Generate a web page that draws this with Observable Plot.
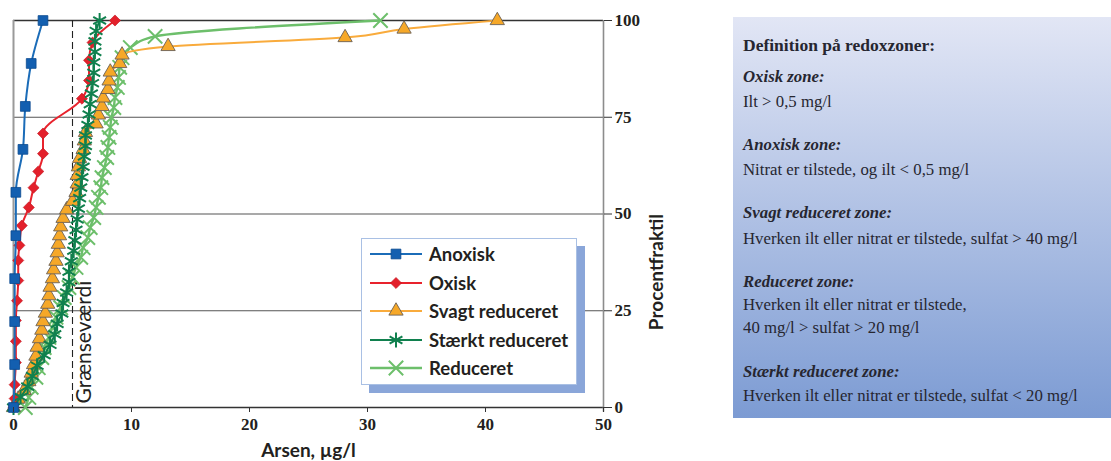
<!DOCTYPE html>
<html>
<head>
<meta charset="utf-8">
<script src="https://cdn.jsdelivr.net/npm/d3@7"></script>
<script src="https://cdn.jsdelivr.net/npm/@observablehq/plot@0.6"></script>
<style>
  body { margin: 0; background: #fff; }
  #wrap { position: relative; width: 1111px; height: 461px; overflow: hidden; }
  #chart { position: absolute; left: 0; top: 0; }
  #legend {
    position: absolute; left: 361px; top: 238px; width: 214px; height: 145px;
    background: #fff; border: 1.5px solid #a9c0e4; box-shadow: 8px 8px 0 #8aa6d9;
  }
  .row { position: absolute; left: 0; height: 28px; display: flex; align-items: center;
         font: 700 18.5px Lato, sans-serif; color: #231f20; white-space: nowrap; }
  .row svg { margin-left: 7px; margin-right: 6px; }
  #panel {
    position: absolute; left: 733px; top: 17px; width: 378px; height: 401px;
    background: linear-gradient(#e2e6f5, #7c9bd3);
    font-family: "Liberation Serif", serif; color: #262630;
  }
  .t { position: absolute; left: 10px; white-space: nowrap; line-height: 20px; font-size: 16.8px; }
  .h { font-weight: bold; font-style: italic; }
  .title { font-weight: bold; font-size: 17.5px; }
</style>
</head>
<body>
<div id="wrap">
  <div id="chart"></div>
  <div id="legend"></div>
  <div id="panel">
    <div class="t title" style="top:18px">Definition på redoxzoner:</div>
    <div class="t h" style="top:50px">Oxisk zone:</div>
    <div class="t" style="top:75px">Ilt &gt; 0,5 mg/l</div>
    <div class="t h" style="top:118px">Anoxisk zone:</div>
    <div class="t" style="top:143px">Nitrat er tilstede, og ilt &lt; 0,5 mg/l</div>
    <div class="t h" style="top:186px">Svagt reduceret zone:</div>
    <div class="t" style="top:212px">Hverken ilt eller nitrat er tilstede, sulfat &gt; 40 mg/l</div>
    <div class="t h" style="top:255px">Reduceret zone:</div>
    <div class="t" style="top:278px">Hverken ilt eller nitrat er tilstede,</div>
    <div class="t" style="top:301px">40 mg/l &gt; sulfat &gt; 20 mg/l</div>
    <div class="t h" style="top:345px">Stærkt reduceret zone:</div>
    <div class="t" style="top:369px">Hverken ilt eller nitrat er tilstede, sulfat &lt; 20 mg/l</div>
  </div>
</div>
<script>
// Cumulative distributions of arsenic (µg/l) per redox zone: percentile vs concentration.
const anoxiskArsen = [0.0, 0.1, 0.1, 0.1, 0.2, 0.2, 0.8, 1.0, 1.5, 2.5];
const anoxiskPct   = [0, 11.1, 22.2, 33.3, 44.4, 55.6, 66.7, 77.8, 88.9, 100];

const oxiskArsen = [0.0, 0.1, 0.1, 0.2, 0.2, 0.2, 0.3, 0.4, 0.4, 0.5, 0.7, 1.3, 1.7, 2.1, 2.5, 2.5, 5.8, 6.4, 6.4, 6.7, 8.6];
const oxiskPct   = [0, 2.3, 5.9, 11.6, 17.1, 22.5, 27.6, 32.8, 38.0, 41.9, 47.0, 51.7, 56.8, 61.0, 65.6, 70.8, 79.8, 84.5, 89.7, 94.3, 100];

const svagtArsen = [0.0, 0.4, 0.9, 1.3, 1.5, 1.7, 1.9, 2.0, 2.2, 2.4, 2.5, 2.7, 2.9, 3.0, 3.1, 3.3, 3.4, 3.6, 3.7, 3.8,
                    3.9, 4.0, 4.2, 4.5, 5.0, 5.3, 5.4, 5.4, 5.5, 5.6, 5.9, 6.0, 6.1, 7.0, 7.2, 7.5, 7.6, 8.0, 8.1, 8.2,
                    9.0, 9.2, 13.1, 28.1, 33.1, 41.0];
const svagtPct   = [0, 2.2, 4.4, 6.7, 8.9, 11.1, 13.3, 15.6, 17.8, 20.0, 22.2, 24.4, 26.7, 28.9, 31.1, 33.3, 35.6, 37.8, 40.0, 42.2,
                    44.4, 46.7, 48.9, 51.1, 53.3, 55.6, 57.8, 60.0, 62.2, 64.4, 66.7, 68.9, 71.1, 73.3, 75.6, 77.8, 80.0, 82.2, 84.4, 86.7,
                    88.9, 91.1, 93.3, 95.6, 97.8, 100];

const staerktArsen = [0.0, 0.6, 1.2, 1.6, 2.0, 2.6, 3.1, 3.5, 3.7, 4.1, 4.2, 4.5, 4.7, 4.7, 4.9, 5.1, 5.2, 5.3, 5.4, 5.5,
                      5.6, 5.7, 5.8, 5.9, 6.0, 6.1, 6.1, 6.3, 6.4, 6.5, 6.6, 6.7, 6.8, 6.8, 6.9, 6.9, 7.0, 7.3];
const staerktPct   = [0, 2.7, 5.4, 8.1, 10.8, 13.5, 16.2, 18.9, 21.6, 24.3, 27.0, 29.7, 32.4, 35.1, 37.8, 40.5, 43.2, 45.9, 48.6, 51.4,
                      54.1, 56.8, 59.5, 62.2, 64.9, 67.6, 70.3, 73.0, 75.7, 78.4, 81.1, 83.8, 86.5, 89.2, 91.9, 94.6, 97.3, 100];

const reduceretArsen = [1.0, 1.3, 1.5, 1.9, 2.1, 2.4, 2.6, 3.0, 3.3, 3.6, 4.0, 4.3, 4.7, 5.0, 5.3, 5.7, 5.9, 6.3, 6.5, 6.8,
                        7.0, 7.2, 7.4, 7.5, 7.7, 7.9, 8.0, 8.1, 8.2, 8.3, 8.5, 8.6, 8.8, 8.9, 9.0, 9.2, 9.9, 12.0, 31.1];
const reduceretPct   = [0, 2.6, 5.2, 7.8, 10.3, 12.9, 15.5, 18.1, 20.7, 23.3, 25.8, 28.4, 31.0, 33.6, 36.2, 38.8, 41.3, 43.9, 46.5, 49.1,
                        51.7, 54.3, 56.8, 59.4, 62.0, 64.6, 67.2, 69.8, 72.4, 74.9, 77.5, 80.1, 82.7, 85.3, 87.9, 90.4, 93.0, 95.9, 100];

const xTicks = [0, 10, 20, 30, 40, 50];
const yTicks = [0, 25, 50, 75, 100];
const limitValue = 5;

// Series styling, in drawing order (bottom first).
const series = [
  {name: "Reduceret",         arsen: reduceretArsen, pct: reduceretPct, line: "#6dbf6b", width: 2.4, symbol: "times",    r: 6.6, fill: "none",    mstroke: "#6dbf6b", mwidth: 2},
  {name: "Svagt reduceret",   arsen: svagtArsen,     pct: svagtPct,     line: "#f9ab3c", width: 2,   symbol: "triangle", r: 5.3, fill: "#f6a828", mstroke: "#6b6055", mwidth: 0.9},
  {name: "Oxisk",             arsen: oxiskArsen,     pct: oxiskPct,     line: "#e8232d", width: 2,   symbol: "diamond2", r: 5,   fill: "#e3202b", mstroke: "#c0141e", mwidth: 0.6},
  {name: "Stærkt reduceret",  arsen: staerktArsen,   pct: staerktPct,   line: "#10804e", width: 2,   symbol: "asterisk", r: 7,   fill: "none",    mstroke: "#10804e", mwidth: 2},
  {name: "Anoxisk",           arsen: anoxiskArsen,   pct: anoxiskPct,   line: "#1b6cb8", width: 2,   symbol: "square",   r: 5.5, fill: "#135fb0", mstroke: "#0b4a8f", mwidth: 0.8}
];
const legendOrder = ["Anoxisk", "Oxisk", "Svagt reduceret", "Stærkt reduceret", "Reduceret"];

const serifBold = {fontFamily: "Liberation Serif", fontWeight: "bold", fontSize: 17, fill: "#231f20"};
const sansBold = {fontFamily: "Lato", fontWeight: "bold", fontSize: 19, fill: "#231f20"};

const seriesMarks = series.flatMap(s => {
  const rows = s.arsen.map((a, i) => ({arsen: a, pct: s.pct[i]}));
  return [
    Plot.line(rows, {x: "arsen", y: "pct", stroke: s.line, strokeWidth: s.width, curve: "monotone-y"}),
    Plot.dot(rows, {x: "arsen", y: "pct", symbol: s.symbol, r: s.r, fill: s.fill, stroke: s.mstroke, strokeWidth: s.mwidth})
  ];
});

const chart = Plot.plot({
  width: 700,
  height: 461,
  marginLeft: 13,
  marginRight: 97,
  marginTop: 20,
  marginBottom: 54,
  style: {background: "transparent", overflow: "visible"},
  x: {domain: [0, 50]},
  y: {domain: [0, 100]},
  marks: [
    Plot.ruleY([25, 50, 75], {stroke: "#555", strokeWidth: 1.2}),
    Plot.ruleY([100], {stroke: "#333", strokeWidth: 1.3}),
    Plot.ruleY([0], {stroke: "#333", strokeWidth: 1.3}),
    Plot.ruleX([0], {stroke: "#9a9a9a", strokeWidth: 2}),
    Plot.ruleX([50], {y1: -1.2, y2: 100, stroke: "#8c8c8c", strokeWidth: 1.6}),
    Plot.ruleX([limitValue], {stroke: "#222", strokeWidth: 1.1, strokeDasharray: "7,4"}),
    Plot.text([limitValue], {x: d => d, y: 0, text: () => "Grænseværdi", rotate: -90, textAnchor: "start",
      lineAnchor: "middle", dx: 12, dy: -4, fontFamily: "Lato", fontSize: 21, fill: "#231f20"}),
    ...seriesMarks,
    Plot.axisX({anchor: "bottom", ticks: xTicks, tickSize: 5, tickPadding: 5, label: null, stroke: "#333", ...serifBold}),
    Plot.axisY({anchor: "right", ticks: yTicks, tickSize: 8, tickPadding: 3, label: null, stroke: "#333", ...serifBold}),
    Plot.text(["Arsen, µg/l"], {frameAnchor: "bottom", dy: 43, lineAnchor: "middle", text: d => d, ...sansBold}),
    Plot.text(["Procentfraktil"], {frameAnchor: "right", dx: 53, rotate: -90, lineAnchor: "middle", text: d => d, ...sansBold})
  ]
});
document.getElementById("chart").append(chart);

// Legend: line sample with its marker, then the series name.
const legend = document.getElementById("legend");
const symbolMap = {
  square: d3.symbolSquare, diamond2: d3.symbolDiamond2, triangle: d3.symbolTriangle,
  asterisk: d3.symbolAsterisk, times: d3.symbolTimes
};
legendOrder.forEach((name, i) => {
  const s = series.find(d => d.name === name);
  const row = document.createElement("div");
  row.className = "row";
  row.style.top = (1 + i * 28.5) + "px";
  const svg = d3.create("svg").attr("width", 54).attr("height", 20);
  svg.append("line").attr("x1", 1).attr("x2", 53).attr("y1", 10).attr("y2", 10)
    .attr("stroke", s.line).attr("stroke-width", s.width);
  svg.append("path")
    .attr("d", d3.symbol(symbolMap[s.symbol], Math.PI * s.r * s.r)())
    .attr("transform", "translate(27,10)")
    .attr("fill", s.fill).attr("stroke", s.mstroke).attr("stroke-width", s.mwidth);
  row.append(svg.node());
  const label = document.createElement("span");
  label.textContent = name;
  row.append(label);
  legend.append(row);
});
</script>
</body>
</html>
